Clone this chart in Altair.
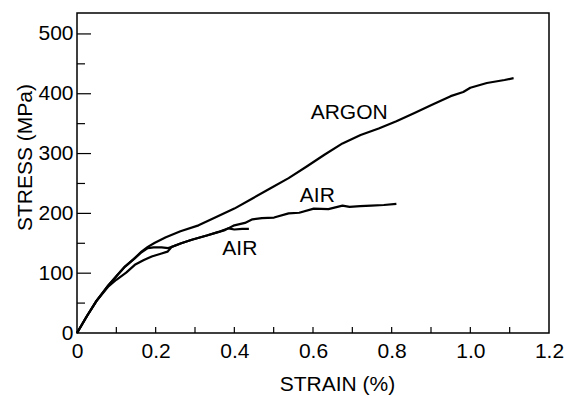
import altair as alt
import pandas as pd

# ---- data ----
argon_strain = [0, 0.025, 0.05, 0.08, 0.1, 0.122, 0.145, 0.164, 0.18, 0.198, 0.226, 0.263,
                0.309, 0.354, 0.4, 0.446, 0.492, 0.538, 0.583, 0.629, 0.675, 0.721, 0.767,
                0.812, 0.858, 0.904, 0.95, 0.982, 1.0, 1.042, 1.087, 1.11]
argon_stress = [0, 28, 54, 80, 95, 111, 124, 136, 144, 151, 160, 170,
                180, 194, 208, 225, 242, 259, 278, 298, 317, 331, 342,
                354, 368, 382, 396, 403, 410, 418, 423, 426]

air_long_strain = [0, 0.025, 0.05, 0.08, 0.1, 0.125, 0.147, 0.17, 0.19, 0.215, 0.23, 0.241,
                   0.265, 0.292, 0.33, 0.376, 0.4, 0.427, 0.446, 0.47, 0.501, 0.538, 0.565,
                   0.602, 0.639, 0.675, 0.693, 0.72, 0.748, 0.78, 0.812]
air_long_stress = [0, 28, 54, 78, 89, 101, 114, 122, 128, 133, 136, 144,
                   150, 156, 163, 172, 180, 184, 190, 192, 193, 200, 201,
                   208, 207, 213, 211, 212, 213, 214, 216]

air_short_strain = [0, 0.025, 0.05, 0.08, 0.1, 0.122, 0.145, 0.164, 0.18, 0.195, 0.215, 0.232,
                    0.245, 0.265, 0.292, 0.33, 0.36, 0.385, 0.4, 0.42, 0.437]
air_short_stress = [0, 28, 54, 80, 95, 111, 124, 135, 142, 143, 143, 142,
                    145, 150, 156, 163, 169, 175, 173, 174, 174]

label_text = ["ARGON", "AIR", "AIR"]
label_strain = [0.692, 0.611, 0.414]
label_stress = [367, 229, 140]

x_tick_labels = [0, 0.2, 0.4, 0.6, 0.8, 1.0, 1.2]
x_ticks = [0.1, 0.2, 0.3, 0.4, 0.5, 0.6, 0.7, 0.8, 0.9, 1.0, 1.1]
y_tick_labels = [0, 100, 200, 300, 400, 500]
y_major = [100, 200, 300, 400, 500]
y_minor = [50, 150, 250, 350, 450]

# ---- tables ----
rows = []
for name, xs, ys in [("ARGON", argon_strain, argon_stress),
                     ("AIR long", air_long_strain, air_long_stress),
                     ("AIR short", air_short_strain, air_short_stress)]:
    for i, (a, b) in enumerate(zip(xs, ys)):
        rows.append({"series": name, "strain": a, "stress": b, "order": i})
df = pd.DataFrame(rows)
labels = pd.DataFrame({"text": label_text, "strain": label_strain, "stress": label_stress})

FONT = "Liberation Sans"
W, H = 472, 320

xscale = alt.Scale(domain=[0, 1.2], nice=False)
yscale = alt.Scale(domain=[0, 535], nice=False)

x_axis = alt.Axis(values=x_tick_labels, labelExpr="datum.value == 0 ? '0' : format(datum.value, '.1f')",
                  ticks=False, domain=False, grid=False, labelPadding=7, labelFontSize=21,
                  labelFont=FONT, labelColor="black", labelFlush=False, labelOverlap=False,
                  title="STRAIN (%)", titleFont=FONT,
                  titleFontSize=21, titleFontWeight="normal", titleColor="black",
                  titleX=260, titleY=57, titleBaseline="alphabetic", titleAlign="center")
y_axis = alt.Axis(values=y_tick_labels, format="d", ticks=False, domain=False, grid=False,
                  labelPadding=4, labelFontSize=21, labelFont=FONT, labelColor="black",
                  labelFlush=False, labelOverlap=False,
                  title="STRESS (MPa)", titleFont=FONT, titleFontSize=21,
                  titleFontWeight="normal", titleColor="black", titleAngle=270,
                  titleX=-46, titleY=144, titleBaseline="alphabetic", titleAlign="center")

lines = alt.Chart(df).mark_line(color="black", strokeWidth=2.2, strokeJoin="round").encode(
    x=alt.X("strain:Q", scale=xscale, axis=x_axis),
    y=alt.Y("stress:Q", scale=yscale, axis=y_axis),
    detail="series:N",
    order="order:Q",
)

texts = alt.Chart(labels).mark_text(font=FONT, fontSize=21, color="black").encode(
    x=alt.X("strain:Q", scale=xscale),
    y=alt.Y("stress:Q", scale=yscale),
    text="text:N",
)

xt = alt.Chart(pd.DataFrame({"v": x_ticks})).mark_rule(color="black", strokeWidth=1.2).encode(
    x=alt.X("v:Q", scale=xscale), y=alt.value(H), y2=alt.value(H - 6))
ymaj = alt.Chart(pd.DataFrame({"v": y_major})).mark_rule(color="black", strokeWidth=1.2).encode(
    y=alt.Y("v:Q", scale=yscale), x=alt.value(0), x2=alt.value(14))
ymin = alt.Chart(pd.DataFrame({"v": y_minor})).mark_rule(color="black", strokeWidth=1.2).encode(
    y=alt.Y("v:Q", scale=yscale), x=alt.value(0), x2=alt.value(8))

chart = alt.layer(lines, texts, xt, ymaj, ymin).properties(
    width=W, height=H,
    padding={"left": 77, "top": 13, "right": 15, "bottom": 63},
    autosize=alt.AutoSizeParams(type="none"),
    background="white",
).configure_view(stroke="black", strokeWidth=1.5)

chart.save("out.html", embed_options={"renderer": "svg", "actions": False})
